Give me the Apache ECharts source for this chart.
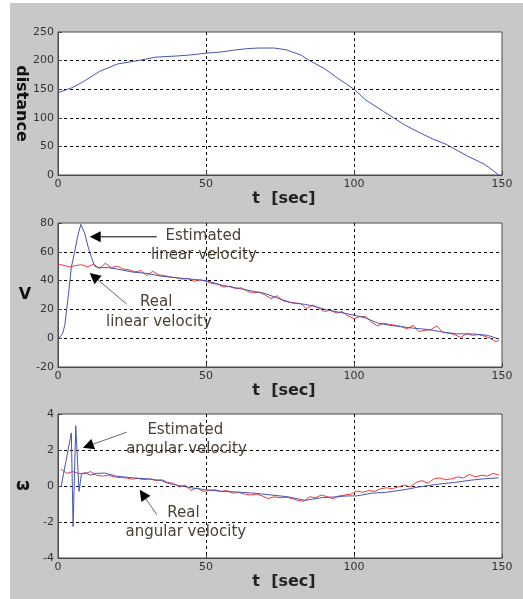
<!DOCTYPE html>
<html>
<head>
<meta charset="utf-8">
<script src="https://cdn.jsdelivr.net/npm/echarts@6/dist/echarts.min.js"></script>
<style>
  body { margin: 0; background: #ffffff; }
  #page { position: relative; width: 523px; height: 599px; background: #ffffff; }
  #chart { position: absolute; left: 10px; top: 3px; width: 513px; height: 596px; background: #c8c8c8; }
</style>
</head>
<body>
<div id="page"><div id="chart"></div></div>
<script>
// x ticks shared by all three panels
var tTicks = [0, 50, 100, 150];

// distance vs time
var distT = [0, 5, 8.5, 14, 20, 27, 33, 40, 45, 50, 55, 59, 64, 68, 73, 77, 82, 85, 90, 94, 100, 104, 110, 117, 121, 127, 131, 138, 144, 149];
var distV = [144, 153, 163, 181, 194, 200, 206, 208, 210, 213, 215, 218, 221, 222, 222, 219, 210, 200, 186, 171, 150, 131, 111, 88, 77, 62, 54, 34, 19, 0];

// estimated linear velocity (blue)
var estVT = [0.3, 1.5, 2.3, 3.4, 4.5, 5.6, 6.8, 7.7, 9, 10.1, 11.3, 12.4, 13.5, 17, 20, 25, 30, 35, 40, 45, 50, 55, 60, 65, 70, 74, 79, 83.5, 87, 91, 95, 100, 104, 108, 112, 116, 120, 125, 131, 135, 140, 145, 149];
var estV = [0, 3, 9, 28, 49, 60, 72, 79, 73, 64, 56, 50, 49, 49, 48, 46, 45, 43, 42, 41, 40, 37, 35, 33, 31, 28, 24.5, 23.5, 22, 19.5, 18, 16, 14, 10.5, 9, 8, 7, 6, 4, 3, 3, 2, -0.5];

// real linear velocity (red), sampled every 2 s
var realVT = [0, 2, 4, 6, 8, 10, 12, 14, 16, 18, 20, 22, 24, 26, 28, 30, 32, 34, 36, 38, 40, 42, 44, 46, 48, 50, 52, 54, 56, 58, 60, 62, 64, 66, 68, 70, 72, 74, 76, 78, 80, 82, 84, 86, 88, 90, 92, 94, 96, 98, 100, 102, 104, 106, 108, 110, 112, 114, 116, 118, 120, 122, 124, 126, 128, 130, 132, 134, 136, 138, 140, 142, 144, 146, 148, 149];
var realV = [51.5, 50.5, 49.5, 50.5, 51, 49.5, 51.5, 48.5, 52, 49, 50, 48, 47.5, 46, 47, 43.5, 46.5, 44, 43.5, 42.5, 42, 41, 41.5, 39.5, 40.5, 39.5, 38, 37.5, 35.5, 36, 34.5, 35, 32.5, 31.5, 32, 30, 27.5, 29.5, 26, 25, 24.5, 24, 20.5, 23, 21, 18.5, 19.5, 17.5, 18.5, 15.5, 13.5, 15, 15, 11, 8.5, 10.5, 9.5, 9, 8, 6.5, 9, 4.5, 5.5, 6, 8.5, 4, 3.5, 2.5, 0.5, 3, 2, 2.5, 1.5, 0, -2.5, -1];

// estimated angular velocity (blue)
var estWT = [1.1, 3.4, 4.5, 5.1, 6.0, 7.1, 7.9, 9, 11, 13, 15.8, 19.7, 21.4, 25.4, 30, 32.7, 35, 37.2, 39, 41.7, 45, 49.6, 55.3, 60, 66.5, 72, 77.8, 83.4, 89, 94, 98, 101, 105.9, 111, 117.2, 122, 128.5, 134, 139.8, 144, 148.8];
var estW = [0, 2.0, 2.95, -2.25, 3.35, -0.3, 0.65, 0.75, 0.6, 0.7, 0.72, 0.55, 0.52, 0.45, 0.4, 0.35, 0.3, 0.15, 0.08, 0, -0.1, -0.2, -0.3, -0.33, -0.4, -0.5, -0.6, -0.8, -0.65, -0.6, -0.55, -0.55, -0.4, -0.35, -0.2, -0.05, 0.1, 0.2, 0.33, 0.4, 0.45];

// real angular velocity (red), sampled every 2 s
var realWT = [1, 3, 5, 7, 9, 11, 13, 15, 17, 19, 21, 23, 25, 27, 29, 31, 33, 35, 37, 39, 41, 43, 45, 47, 49, 51, 53, 55, 57, 59, 61, 63, 65, 67, 69, 71, 73, 75, 77, 79, 81, 83, 85, 87, 89, 91, 93, 95, 97, 99, 101, 103, 105, 107, 109, 111, 113, 115, 117, 119, 121, 123, 125, 127, 129, 131, 133, 135, 137, 139, 141, 143, 145, 147, 149];
var realW = [0.95, 0.7, 0.8, 0.7, 0.68, 0.8, 0.6, 0.55, 0.6, 0.5, 0.47, 0.45, 0.38, 0.42, 0.35, 0.4, 0.3, 0.35, 0.2, 0.15, -0.05, 0.05, -0.25, -0.1, -0.3, -0.25, -0.2, -0.3, -0.25, -0.4, -0.35, -0.45, -0.5, -0.45, -0.55, -0.7, -0.6, -0.65, -0.62, -0.7, -0.8, -0.85, -0.6, -0.65, -0.5, -0.6, -0.7, -0.55, -0.5, -0.45, -0.28, -0.35, -0.25, -0.3, -0.15, -0.1, -0.15, -0.05, 0.05, -0.05, 0.2, 0.3, 0.15, 0.4, 0.45, 0.35, 0.4, 0.5, 0.45, 0.65, 0.5, 0.6, 0.55, 0.7, 0.6];

function pairs(xs, ys) {
  return xs.map(function (x, i) { return [x, ys[i]]; });
}

var BLUE = '#4455b8';
var RED = '#f03a3a';
var FRAME = '#4a4a4a';
var TXT = '#4a4236';

var grids = [
  { left: 48, top: 29, width: 444, height: 143 },
  { left: 48, top: 220, width: 444, height: 144 },
  { left: 48, top: 411, width: 444, height: 144 }
];
var yRanges = [[0, 250, 50], [-20, 80, 20], [-4, 4, 2]];

var chart = echarts.init(document.getElementById('chart'));

var option = {
  animation: false,
  backgroundColor: '#c8c8c8',
  grid: grids.map(function (g) {
    return {
      left: g.left, top: g.top, width: g.width, height: g.height,
      show: true, backgroundColor: '#ffffff', borderColor: FRAME, borderWidth: 1
    };
  }),
  xAxis: grids.map(function (g, i) {
    return {
      gridIndex: i, type: 'value', min: tTicks[0], max: tTicks[tTicks.length - 1], interval: 50,
      name: 't  [sec]', nameLocation: 'middle', nameGap: 14,
      nameTextStyle: { fontFamily: 'DejaVu Sans', fontWeight: 'bold', fontSize: 16, color: '#222', padding: [0, 0, 0, 8] },
      axisLine: { show: true, onZero: false, lineStyle: { color: FRAME, width: 1 } },
      axisTick: { show: true, inside: true, length: 4, lineStyle: { color: FRAME } },
      axisLabel: { margin: 4, fontFamily: 'DejaVu Sans', fontSize: 11, color: '#333' },
      splitLine: { show: true, showMinLine: false, showMaxLine: false, lineStyle: { color: '#000', type: [3, 3], width: 1 } }
    };
  }),
  yAxis: grids.map(function (g, i) {
    return {
      gridIndex: i, type: 'value', min: yRanges[i][0], max: yRanges[i][1], interval: yRanges[i][2],
      axisLine: { show: true, onZero: false, lineStyle: { color: FRAME, width: 1 } },
      axisTick: { show: true, inside: true, length: 4, lineStyle: { color: FRAME } },
      axisLabel: { margin: 4, fontFamily: 'DejaVu Sans', fontSize: 11, color: '#333' },
      splitLine: { show: true, showMinLine: false, showMaxLine: false, lineStyle: { color: '#000', type: [3, 3], width: 1 } }
    };
  }),
  series: [
    { type: 'line', xAxisIndex: 0, yAxisIndex: 0, data: pairs(distT, distV), showSymbol: false,
      lineStyle: { color: BLUE, width: 1 } },
    { type: 'line', xAxisIndex: 1, yAxisIndex: 1, data: pairs(realVT, realV), showSymbol: false,
      lineStyle: { color: RED, width: 1 } },
    { type: 'line', xAxisIndex: 1, yAxisIndex: 1, data: pairs(estVT, estV), showSymbol: false,
      lineStyle: { color: BLUE, width: 1 } },
    { type: 'line', xAxisIndex: 2, yAxisIndex: 2, data: pairs(realWT, realW), showSymbol: false,
      lineStyle: { color: RED, width: 1 } },
    { type: 'line', xAxisIndex: 2, yAxisIndex: 2, data: pairs(estWT, estW), showSymbol: false,
      lineStyle: { color: BLUE, width: 1 } }
  ]
};
chart.setOption(option);

// annotations placed in data coordinates of each panel
var notes = [
  { grid: 1, at: [49.1, 71.1], text: 'Estimated' },
  { grid: 1, at: [49.3, 57.9], text: 'linear velocity' },
  { grid: 1, at: [33.2, 25.1], text: 'Real' },
  { grid: 1, at: [34.1, 11.2], text: 'linear velocity' },
  { grid: 2, at: [43.0, 3.11], text: 'Estimated' },
  { grid: 2, at: [43.4, 2.06], text: 'angular velocity' },
  { grid: 2, at: [42.4, -1.49], text: 'Real' },
  { grid: 2, at: [43.2, -2.54], text: 'angular velocity' }
];
var arrows = [
  { grid: 1, from: [33.4, 70.4], to: [10.7, 70.4], color: '#000' },
  { grid: 1, from: [23.2, 23.7], to: [10.7, 45.3], color: '#666' },
  { grid: 2, from: [23.2, 2.99], to: [8.4, 2.12], color: '#666' },
  { grid: 2, from: [33.4, -1.6], to: [27.6, -0.21], color: '#666' }
];

var gfx = [];
// axis titles on the left
var yNames = [
  { grid: 0, text: 'distance', rotate: -Math.PI / 2, dx: -37 },
  { grid: 1, text: 'V', rotate: 0, dx: -33 },
  { grid: 2, text: '\u03c9', rotate: 0, dx: -35 }
];
yNames.forEach(function (n) {
  var g = grids[n.grid];
  gfx.push({
    type: 'text', x: g.left + n.dx, y: g.top + g.height / 2, rotation: n.rotate,
    style: { text: n.text, fontFamily: 'DejaVu Sans', fontWeight: 'bold', fontSize: 16, fill: '#111',
      align: 'center', verticalAlign: 'middle' }
  });
});

notes.forEach(function (n) {
  var p = chart.convertToPixel({ gridIndex: n.grid }, n.at);
  gfx.push({
    type: 'text', x: p[0], y: p[1], z: 100,
    style: { text: n.text, fontFamily: 'DejaVu Sans', fontSize: 15, fill: TXT, align: 'center', verticalAlign: 'middle' }
  });
});

arrows.forEach(function (a) {
  var p0 = chart.convertToPixel({ gridIndex: a.grid }, a.from);
  var p1 = chart.convertToPixel({ gridIndex: a.grid }, a.to);
  var dx = p1[0] - p0[0], dy = p1[1] - p0[1];
  var len = Math.sqrt(dx * dx + dy * dy);
  var ux = dx / len, uy = dy / len;
  var hl = 11, hw = 5.5;
  var bx = p1[0] - ux * hl, by = p1[1] - uy * hl;
  gfx.push({
    type: 'line', z: 100,
    shape: { x1: p0[0], y1: p0[1], x2: bx, y2: by },
    style: { stroke: a.color, lineWidth: 1 }
  });
  gfx.push({
    type: 'polygon', z: 100,
    shape: { points: [[p1[0], p1[1]], [bx - uy * hw, by + ux * hw], [bx + uy * hw, by - ux * hw]] },
    style: { fill: '#000' }
  });
});

chart.setOption({ graphic: gfx });
</script>
</body>
</html>
